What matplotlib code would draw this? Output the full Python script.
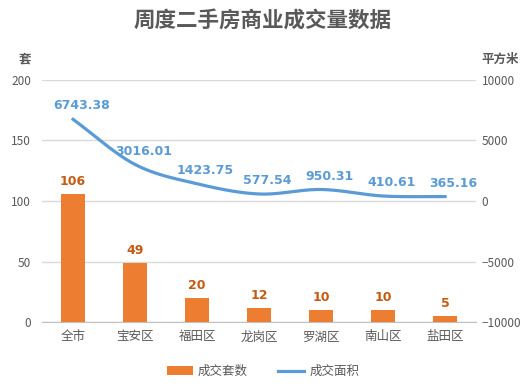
import matplotlib
matplotlib.use("Agg")
import matplotlib.pyplot as plt
import numpy as np

plt.rcParams['font.family'] = ['Noto Sans CJK SC', 'DejaVu Sans']

districts = ["全市", "宝安区", "福田区", "龙岗区", "罗湖区", "南山区", "盐田区"]
units = [106, 49, 20, 12, 10, 10, 5]
area = [6743.38, 3016.01, 1423.75, 577.54, 950.31, 410.61, 365.16]

ORANGE = "#ED7D31"
BLUE = "#5B9BD5"
GRAY = "#595959"


def catmull_rom(xs, ys, n=30):
    # smooth curve through the points, like Excel's smoothed line
    xs = np.asarray(xs, float)
    ys = np.asarray(ys, float)
    px = np.concatenate([[2 * xs[0] - xs[1]], xs, [2 * xs[-1] - xs[-2]]])
    py = np.concatenate([[2 * ys[0] - ys[1]], ys, [2 * ys[-1] - ys[-2]]])
    outx, outy = [], []
    for i in range(1, len(px) - 2):
        t = np.linspace(0, 1, n)
        for p, out in ((px, outx), (py, outy)):
            p0, p1, p2, p3 = p[i - 1], p[i], p[i + 1], p[i + 2]
            out.extend(0.5 * (2 * p1 + (-p0 + p2) * t
                              + (2 * p0 - 5 * p1 + 4 * p2 - p3) * t ** 2
                              + (-p0 + 3 * p1 - 3 * p2 + p3) * t ** 3))
    return np.array(outx), np.array(outy)


fig = plt.figure(figsize=(5.26, 3.88), dpi=100)
ax = fig.add_axes([0.08, 0.17, 0.825, 0.624])
ax2 = ax.twinx()

x = np.arange(len(districts))
bars = ax.bar(x, units, width=0.4, color=ORANGE, zorder=3, label="成交套数")
for xi, v in zip(x, units):
    ax.annotate(str(v), (xi, v), xytext=(0, 4), textcoords="offset points",
                ha="center", va="bottom", fontsize=9, fontweight="bold",
                color="#C55A11", family=['DejaVu Sans'])

sx, sy = catmull_rom(x, area)
line, = ax2.plot(sx, sy, color=BLUE, lw=2.3, zorder=4, label="成交面积")
for xi, v in zip(x, area):
    ax2.annotate(f"{v:.2f}", (xi, v), xytext=(6, 5), textcoords="offset points",
                 ha="center", va="bottom", fontsize=9, fontweight="bold",
                 color=BLUE, family=['DejaVu Sans'])

ax.set_xlim(-0.5, len(districts) - 0.5)
ax.set_ylim(0, 200)
ax.set_yticks([0, 50, 100, 150, 200])
ax2.set_ylim(-10000, 10000)
ax2.set_yticks([-10000, -5000, 0, 5000, 10000])
ax.set_xticks(x)
ax.set_xticklabels(districts)

ax.grid(axis="y", color="#D9D9D9", lw=1, zorder=0)
ax.set_axisbelow(True)
for a in (ax, ax2):
    for s in a.spines.values():
        s.set_visible(False)
    a.tick_params(length=0, labelsize=8.5, colors=GRAY)
ax.spines["bottom"].set_visible(True)
ax.spines["bottom"].set_color("#BFBFBF")
ax.tick_params(axis="x", pad=6, labelsize=9)
ax.tick_params(axis="y", pad=8)
ax2.tick_params(axis="y", pad=4)

fig.text(0.5, 0.947, "周度二手房商业成交量数据", ha="center", va="center",
         fontsize=15.5, fontweight="bold", color=GRAY)
fig.text(0.048, 0.848, "套", ha="center", va="center", fontsize=9,
         fontweight="bold", color=GRAY)
fig.text(0.95, 0.848, "平方米", ha="center", va="center", fontsize=9,
         fontweight="bold", color=GRAY)

fig.legend([bars, line], ["成交套数", "成交面积"], loc="center",
           bbox_to_anchor=(0.5, 0.042), ncol=2, frameon=False, fontsize=9,
           labelcolor=GRAY, handlelength=2.1, handletextpad=0.4,
           columnspacing=2.4)

fig.savefig("out.png", dpi=100)
